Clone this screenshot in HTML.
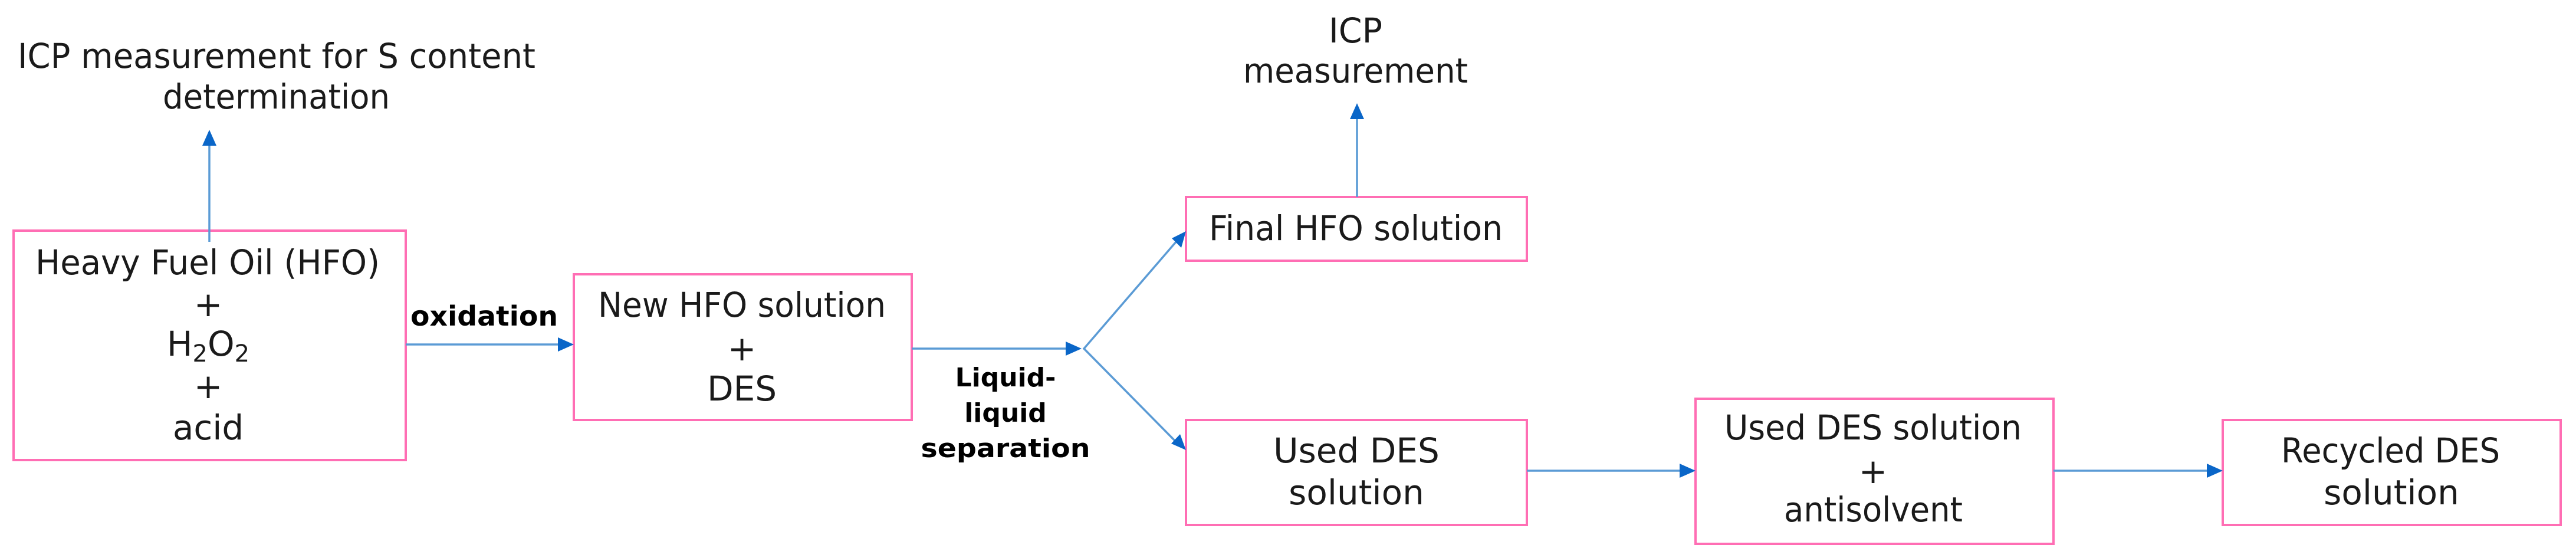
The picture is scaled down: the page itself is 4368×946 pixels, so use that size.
<!DOCTYPE html>
<html><head><meta charset="utf-8"><style>
html,body{margin:0;padding:0;background:#fff;}
svg{display:block;}
text{font-family:"DejaVu Sans","Liberation Sans",sans-serif;fill:#1a1a1a;font-size:58px;}
.b{font-weight:bold;font-size:44px;fill:#000;}
</style></head><body>
<svg width="4368" height="946" viewBox="0 0 4368 946" xmlns="http://www.w3.org/2000/svg">
<g fill="none" stroke="#ff6eb4" stroke-width="4">
<rect x="23" y="391" width="665" height="389"/>
<rect x="973" y="465" width="573" height="247"/>
<rect x="2011" y="334" width="578" height="108"/>
<rect x="2011" y="712" width="578" height="178"/>
<rect x="2875" y="676" width="607" height="246"/>
<rect x="3769" y="712" width="573" height="178"/>
</g>
<g stroke="#5b9bd5" stroke-width="3.5" fill="none">
<line x1="355" y1="410" x2="355" y2="240"/>
<line x1="688" y1="584" x2="952" y2="584"/>
<line x1="1546" y1="591" x2="1812" y2="591"/>
<polyline points="1995,409 1838,591 1993,748"/>
<line x1="2301" y1="334" x2="2301" y2="195"/>
<line x1="2589" y1="798" x2="2853" y2="798"/>
<line x1="3482" y1="798" x2="3747" y2="798"/>
</g>
<g fill="#0a66c8">
<polygon points="355,220 343,247 367,247"/>
<polygon points="973,584 946,572 946,596"/>
<polygon points="1834,591 1807,579 1807,603"/>
<polygon points="2011,392 1987,404 2003,420"/>
<polygon points="2011,763 1986,752 2001,736"/>
<polygon points="2301,175 2289,202 2313,202"/>
<polygon points="2875,798 2848,786 2848,810"/>
<polygon points="3769,798 3742,786 3742,810"/>
</g>
<g text-anchor="start">
<text x="30" y="115" textLength="878" lengthAdjust="spacingAndGlyphs">ICP measurement for S content</text>
<text x="276" y="184" textLength="385" lengthAdjust="spacingAndGlyphs">determination</text>
<text x="60" y="465" textLength="584" lengthAdjust="spacingAndGlyphs">Heavy Fuel Oil (HFO)</text>
<text x="2253" y="72" textLength="91" lengthAdjust="spacingAndGlyphs">ICP</text>
<text x="2108" y="140" textLength="381" lengthAdjust="spacingAndGlyphs">measurement</text>
<text x="2050" y="407" textLength="498" lengthAdjust="spacingAndGlyphs">Final HFO solution</text>
<text x="1014" y="537" textLength="488" lengthAdjust="spacingAndGlyphs">New HFO solution</text>
<text x="2924" y="745" textLength="504" lengthAdjust="spacingAndGlyphs">Used DES solution</text>
<text x="3025" y="884" textLength="303" lengthAdjust="spacingAndGlyphs">antisolvent</text>
<text x="3868" y="784" textLength="371" lengthAdjust="spacingAndGlyphs">Recycled DES</text>
</g>
<g text-anchor="middle">
<text x="353" y="536">+</text>
<text x="353" y="603">H<tspan font-size="40" dy="10">2</tspan><tspan dy="-10">O</tspan><tspan font-size="40" dy="10">2</tspan></text>
<text x="353" y="675">+</text>
<text x="353" y="745">acid</text>
<text x="1258" y="611">+</text>
<text x="1258" y="679">DES</text>
<text x="2300" y="784">Used DES</text>
<text x="2300" y="855">solution</text>
<text x="3176" y="819">+</text>
<text x="4055" y="855">solution</text>
</g>
<text class="b" x="696" y="552" textLength="250" lengthAdjust="spacingAndGlyphs" style="font-size:46px">oxidation</text>
<g text-anchor="middle">
<text class="b" x="1705" y="655">Liquid-</text>
<text class="b" x="1705" y="715">liquid</text>
<text class="b" x="1705" y="775" textLength="287" lengthAdjust="spacingAndGlyphs">separation</text>
</g>
</svg>
</body></html>
